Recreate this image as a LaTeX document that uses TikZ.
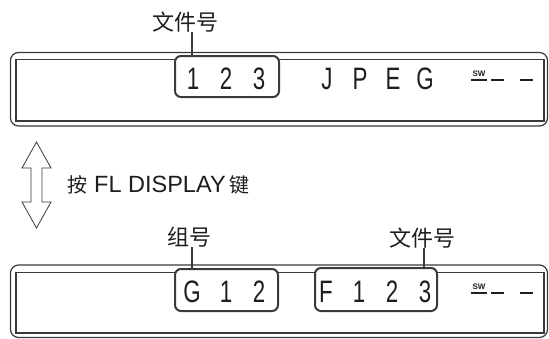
\documentclass[tikz,border=0pt]{standalone}
\usepackage{fontspec}
\setmainfont{Liberation Sans}
\newfontfamily\lcd[FakeStretch=0.72]{Liberation Sans}
\newfontfamily\cjk{Noto Sans CJK SC}
\definecolor{ln}{HTML}{3A3A3A}
\definecolor{tx}{HTML}{1E1E1E}
\tikzset{
  dispouter/.style={draw=ln, line width=1.2pt, rounded corners=8pt, inner sep=0pt},
  dispinner/.style={draw=ln, line width=1.2pt, inner sep=0pt},
  hlbox/.style={draw=ln, line width=2pt, rounded corners=6pt, fill=white, inner sep=0pt},
  lcdch/.style={anchor=base, inner sep=0pt, text=tx, font=\lcd\fontsize{31}{31}\selectfont},
  lbl/.style={inner sep=0pt, text=tx, font=\cjk\fontsize{22}{22}\selectfont},
  lead/.style={draw=ln, line width=2pt},
  dashseg/.style={draw=tx, line width=2pt},
  swtxt/.style={inner sep=0pt, text=tx, font=\bfseries\fontsize{8}{8}\selectfont}
}
\begin{document}
\begin{tikzpicture}[x=1pt,y=-1pt]
\fill[white] (0,0) rectangle (549,338);
\useasboundingbox (0,0) rectangle (549,338);
% ---------- top display ----------
\node[dispouter, minimum width=537pt, minimum height=73.5pt] (d1o) at (279,89.25) {};
\node[dispinner, minimum width=528pt, minimum height=61.5pt] (d1i) at (280,90.25) {};
\node[hlbox, minimum width=104pt, minimum height=41pt] (b1) at (227,76.5) {};
\node[lcdch] (t1) at (193,89) {1};
\node[lcdch] (t2) at (226,89) {2};
\node[lcdch] (t3) at (259,89) {3};
\node[lcdch] (tJ) at (327,89) {J};
\node[lcdch] (tP) at (360,89) {P};
\node[lcdch] (tE) at (393,89) {E};
\node[lcdch] (tG) at (425,89) {G};
\node[swtxt] (sw1) at (479,74) {SW};
\coordinate (s1a) at (471,80); \coordinate (s1b) at (487,80);
\coordinate (s1c) at (491,80); \coordinate (s1d) at (504,80);
\coordinate (s1e) at (520,80); \coordinate (s1f) at (533,80);
\draw[dashseg] (s1a) -- (s1b);
\draw[dashseg] (s1c) -- (s1d);
\draw[dashseg] (s1e) -- (s1f);
\node[lbl] (l1) at (185,22) {文件号};
\coordinate (k1) at (192,0);
\draw[lead] (l1.south -| k1) -- (b1.north -| k1);
% ---------- arrow and key text ----------
\draw[draw=ln, line width=0.8pt, line join=miter]
  (36.5,142) -- (51,168) -- (42,168) -- (42,202) -- (51,202) -- (36.5,228)
  -- (22,202) -- (31,202) -- (31,168) -- (22,168) -- cycle;
\node[anchor=base west, inner sep=0pt, text=tx] (key) at (67,192)
  {{\cjk\fontsize{20}{20}\selectfont 按}\hspace{7pt}{\fontsize{23.5}{23.5}\selectfont FL DISPLAY}\hspace{4pt}{\cjk\fontsize{20}{20}\selectfont 键}};
% ---------- bottom display ----------
\node[dispouter, minimum width=537pt, minimum height=72.5pt] (d2o) at (279,301.25) {};
\node[dispinner, minimum width=528pt, minimum height=60.5pt] (d2i) at (280,302.75) {};
\node[hlbox, minimum width=103pt, minimum height=42pt] (b2) at (226.5,290) {};
\node[hlbox, minimum width=122pt, minimum height=43pt] (b3) at (376,289.5) {};
\node[lcdch] (u1) at (192,302) {G};
\node[lcdch] (u2) at (226,302) {1};
\node[lcdch] (u3) at (259,302) {2};
\node[lcdch] (u4) at (326,302) {F};
\node[lcdch] (u5) at (359,302) {1};
\node[lcdch] (u6) at (392,302) {2};
\node[lcdch] (u7) at (425,302) {3};
\node[swtxt] (sw2) at (479,287) {SW};
\coordinate (s2a) at (471,293); \coordinate (s2b) at (487,293);
\coordinate (s2c) at (491,293); \coordinate (s2d) at (504,293);
\coordinate (s2e) at (520,293); \coordinate (s2f) at (533,293);
\draw[dashseg] (s2a) -- (s2b);
\draw[dashseg] (s2c) -- (s2d);
\draw[dashseg] (s2e) -- (s2f);
\node[lbl] (l2) at (189,237) {组号};
\node[lbl] (l3) at (422,238) {文件号};
\coordinate (k2) at (192,0);
\coordinate (k3) at (424,0);
\draw[lead] (l2.south -| k2) -- (b2.north -| k2);
\draw[lead] (l3.south -| k3) -- (b3.north -| k3);
\end{tikzpicture}
\end{document}
